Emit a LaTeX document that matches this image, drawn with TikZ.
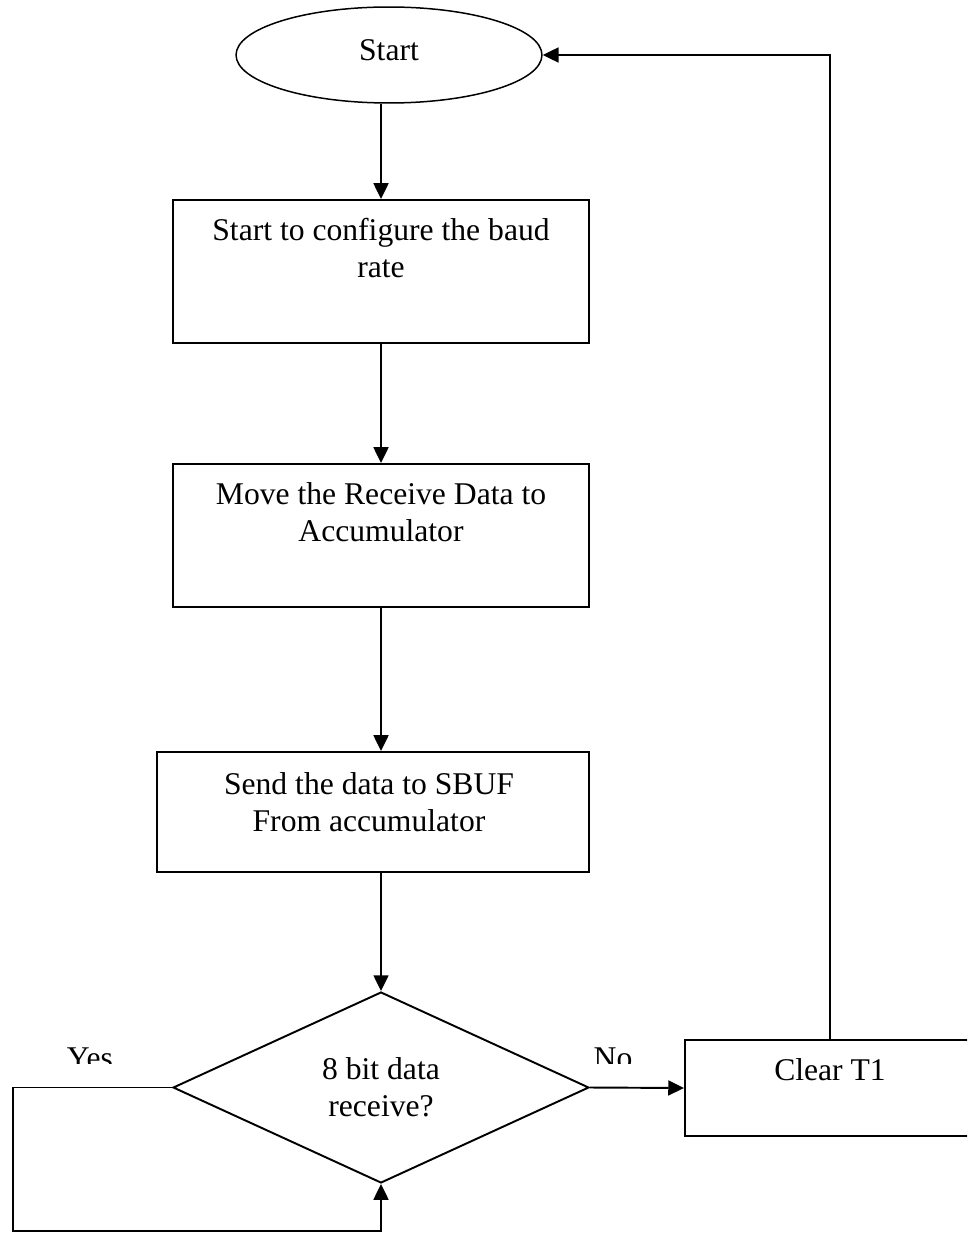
\documentclass[tikz,border=0pt]{standalone}
\usepackage{fontspec}
\setmainfont{Liberation Serif}
\usetikzlibrary{shapes.geometric,arrows.meta}
\tikzset{
  flow/.style={draw=black, line width=1.1pt},
  boxnode/.style={flow, rectangle, inner sep=0pt},
  termnode/.style={draw=black, line width=0.85pt, ellipse, inner sep=0pt, minimum width=6.12cm, minimum height=1.92cm, text depth=5.7pt},
  decnode/.style={flow, diamond, inner sep=0pt, minimum width=8.32cm, minimum height=3.82cm, align=center},
  txt/.style={inner sep=0pt, align=center},
  lbl/.style={inner sep=0pt, anchor=base},
  arr/.style={line width=1.1pt, -{Triangle[length=9pt,width=8.5pt]}},
  conn/.style={line width=1.1pt}
}
\begin{document}
\begin{tikzpicture}[x=0.02cm, y=-0.02cm, font=\fontsize{18}{21}\selectfont]
\path[use as bounding box] (0,0) rectangle (967,1233);
\clip (0,0) rectangle (967,1233);

% terminal
\node[termnode] (e) at (389,55) {Start};

% process boxes
\node[boxnode, minimum width=8.32cm, minimum height=2.86cm] (b1) at (381,271.5) {};
\node[txt, anchor=north] (b1t) at (381,218) {Start to configure the baud\\rate};

\node[boxnode, minimum width=8.32cm, minimum height=2.86cm] (b2) at (381,535.5) {};
\node[txt, anchor=north] (b2t) at (381,482) {Move the Receive Data to\\Accumulator};

\node[boxnode, minimum width=8.64cm, minimum height=2.4cm] (b3) at (373,812) {};
\node[txt, anchor=north] (b3t) at (369,772) {Send the data to SBUF\\From accumulator};

% decision
\node[decnode] (d) at (381,1087.5) {8 bit data\\receive?};

% clear box
\node[boxnode, minimum width=5.8cm, minimum height=1.92cm, text depth=21pt] (c) at (830,1088) {Clear T1};

% loop corner
\coordinate (lp) at (13,1231);

% connectors
\draw[arr] (b1.north |- e.south) -- (b1.north);
\draw[arr] (b1.south) -- (b2.north);
\draw[arr] (b2.south) -- (b2.south |- b3.north);
\draw[arr] (d.north |- b3.south) -- (d.north);
\draw[arr] (d.east) -- (c.west);
\draw[arr] (d.west) -| (lp) -| (d.south);
\draw[arr] (c.north) |- (e.east);

% clipped labels
\begin{scope}
\clip (0,0) rectangle (967,1063);
\node[lbl] (yes) at (90,1068) {Yes};
\node[lbl] (no) at (613,1068) {No};
\end{scope}
\end{tikzpicture}
\end{document}
